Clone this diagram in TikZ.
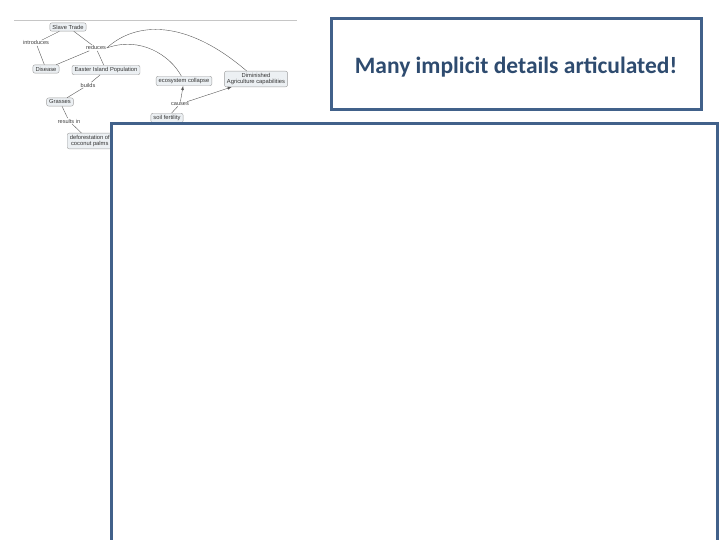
\documentclass[tikz,border=0pt]{standalone}
\usepackage{fontspec}
\setmainfont{Liberation Sans}
\newfontfamily\titlefont{Carlito}
\usetikzlibrary{positioning}
\definecolor{framecol}{HTML}{41618A}
\definecolor{titlecol}{HTML}{2E4B6F}
\definecolor{conceptfill}{HTML}{ECF0F3}

\begin{document}
\begin{tikzpicture}[x=1pt, y=-1pt,
	concept/.style={draw=gray!75, fill=conceptfill, rounded corners=2pt, thin, inner xsep=2.6pt, inner ysep=2pt, font=\fontsize{5.8}{6.2}\selectfont, text=black!80, align=center},
	phrase/.style={inner sep=0.6pt, font=\fontsize{5.6}{6}\selectfont, text=black!75},
	link/.style={draw=black!65, line width=0.4pt},
	frame/.style={draw=framecol, line width=3pt, fill=white}]
	\useasboundingbox (0,0) rectangle (720,540);
	\clip (0,0) rectangle (720,540);
	\draw[gray!45, line width=0.8pt] (14,20) -- (297,20);
	\node[concept] (slave) at (68,27) {Slave Trade};
	\node[phrase] (intro) at (36,43) {introduces};
	\node[phrase] (reduces) at (96,48) {reduces};
	\node[concept] (disease) at (46,69) {Disease};
	\node[concept] (eip) at (106,70) {Easter Island Population};
	\node[phrase] (builds) at (88,85) {builds};
	\node[concept] (grasses) at (60,102) {Grasses};
	\node[phrase] (results) at (69,121) {results in};
	\node[concept, anchor=west] (defor) at (67,141) {deforestation of\\coconut palms};
	\node[concept] (eco) at (184,81) {ecosystem collapse};
	\node[concept] (dim) at (256,79) {Diminished\\Agriculture capabilities};
	\node[phrase] (causes) at (180,104) {causes};
	\node[concept] (soil) at (167,118) {soil fertility};
	\draw[link] (slave) -- (intro) (intro) -- (disease);
	\draw[link] (slave) -- (reduces) (reduces) -- (eip) (reduces) -- (disease);
	\draw[link] (reduces.east) .. controls (135,22) and (185,18) .. (dim);
	\draw[link] (reduces.east) .. controls (140,36) and (170,55) .. (eco);
	\draw[link] (eip) -- (builds) (builds) -- (grasses);
	\draw[link] (grasses) -- (results) (results) -- (defor);
	\draw[link] (soil) -- (causes);
	\draw[link, -latex] (causes) -- (eco);
	\draw[link, -latex] (causes) -- (dim);
	\draw[frame] (111,124) rectangle (717,570);
	\node[frame, minimum width=370pt, minimum height=91pt, text height=21pt, text depth=2pt, text=titlecol, font=\titlefont\bfseries\fontsize{23.5}{26}\selectfont] (title) at (516,64.5) {Many implicit details articulated!};
\end{tikzpicture}
\end{document}
